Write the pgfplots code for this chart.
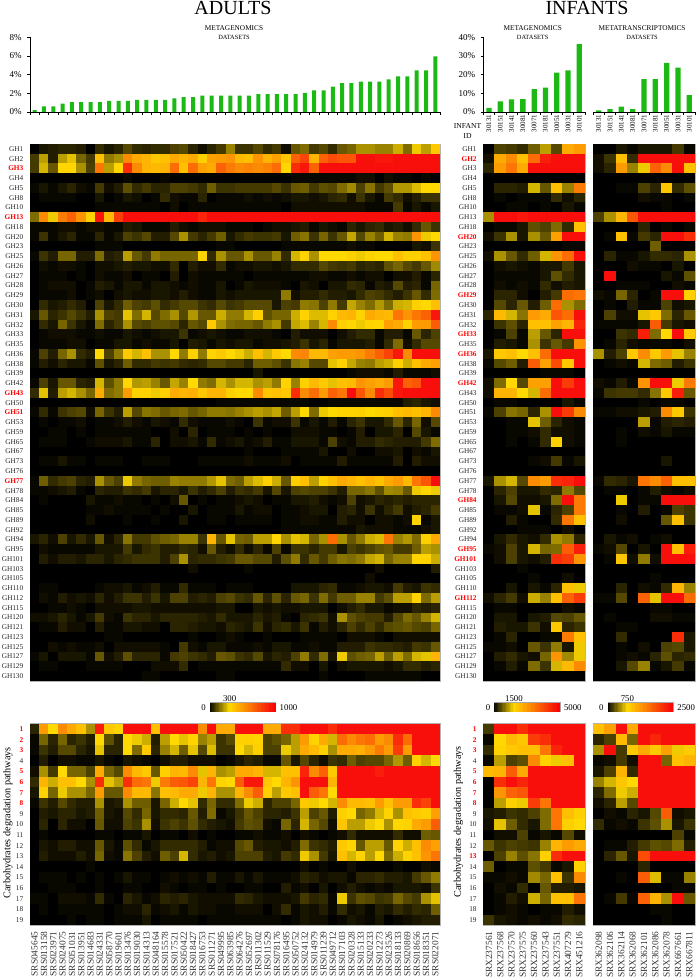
\documentclass[border=0pt]{standalone}
\usepackage{pgfplots}
\usepackage{pgfplotstable}
\usepackage{fontspec}
\setmainfont{Liberation Serif}
\pgfplotsset{compat=1.18}
\newcommand{\fs}[1]{\fontsize{#1}{#1}\selectfont}
\newcommand{\rr}[1]{{\bfseries\color{red}#1}}
\definecolor{bargreen}{RGB}{28,184,20}
\pgfdeclareplotmark{cellA}{\pgfpathrectangle{\pgfpoint{-4.82pt}{-5.03pt}}{\pgfpoint{9.64pt}{10.06pt}}\pgfusepathqfill}
\pgfdeclareplotmark{cellB}{\pgfpathrectangle{\pgfpoint{-4.82pt}{-5.45pt}}{\pgfpoint{9.64pt}{10.9pt}}\pgfusepathqfill}
\pgfdeclareplotmark{cellC}{\pgfpathrectangle{\pgfpoint{-5.8pt}{-5.03pt}}{\pgfpoint{11.6pt}{10.06pt}}\pgfusepathqfill}
\pgfdeclareplotmark{cellD}{\pgfpathrectangle{\pgfpoint{-5.8pt}{-5.45pt}}{\pgfpoint{11.6pt}{10.9pt}}\pgfusepathqfill}
\pgfdeclareplotmark{cellE}{\pgfpathrectangle{\pgfpoint{-0.8pt}{-4.5pt}}{\pgfpoint{1.6pt}{9pt}}\pgfusepathqfill}

\pgfplotstableread{
0 3 4 5 5 4 0 6 3 5  10 6 5 6 6 9 10 5 2 5  8 18 7 7 10 6 8 2 12 15  8 10 6 12 14 20 20 18 18 24  15 28 22 35
8 22 4 22 27 14 8 38 17 20  55 45 42 35 38 45 42 45 33 48  50 52 40 38 52 42 48 36 68 78  42 68 75 72 72 95 95 92 92 95  95 95 95 95
8 25 12 31 31 20 9 62 22 31  85 55 42 40 42 65 38 65 48 45  68 60 55 58 55 58 65 31 85 92  68 95 95 95 95 95 95 95 95 95  95 95 95 95
0 0 0 0 0 0 0 0 0 0  1 0 0 0 1 0 0 0 0 0  0 0 0 0 0 0 0 0 1 1  1 1 1 1 1 2 2 0 2 1  1 0 1 0
1 3 1 3 5 2 1 8 2 4  11 6 8 5 5 9 9 8 6 13  7 7 8 8 8 8 10 7 12 13  8 11 10 15 19 9 16 8 11 21  21 26 30 30
0 1 1 1 1 0 0 3 0 1  3 2 0 1 6 2 1 1 5 0  1 1 1 2 1 2 1 2 3 3  2 3 5 6 2 7 3 1 8 6  2 4 7 7
0 0 0 0 0 0 0 1 1 1  1 1 1 1 0 2 0 1 1 1  1 1 1 1 1 1 1 0 2 2  2 2 2 2 2 2 1 1 1 8  1 3 1 3
15 55 28 60 68 52 32 92 40 80  95 95 95 95 95 95 95 95 88 95  95 95 95 95 95 95 95 95 95 95  95 95 95 95 95 95 95 95 95 95  95 95 95 95
1 1 1 2 2 1 2 2 1 1  4 3 1 1 1 4 2 1 2 2  2 1 1 1 0 1 2 2 3 4  1 3 2 1 5 3 5 6 3 4  2 6 12 7
1 7 1 3 5 1 1 5 1 3  9 7 10 4 4 10 20 8 5 8  13 3 6 8 7 7 8 3 13 16  7 14 7 12 23 10 18 13 25 18  17 52 28 30
0 0 0 0 0 0 0 1 1 1  0 0 0 0 0 0 0 0 0 0  1 1 0 0 0 0 0 1 1 1  1 1 1 1 2 1 1 0 0 0  0 3 2 7
1 7 4 14 14 4 4 15 4 5  22 12 8 17 14 14 14 14 32 6  20 12 12 20 12 12 18 6 25 32  20 30 30 30 33 28 32 30 30 38  33 33 38 52
0 2 1 2 2 1 0 2 2 3  4 3 3 2 2 6 0 4 2 2  6 1 2 2 3 3 2 3 6 6  6 10 8 7 8 5 6 5 11 14  10 8 12 19
0 1 1 1 0 1 0 2 1 1  2 0 1 1 0 4 0 2 1 1  1 1 1 0 1 1 1 1 1 1  2 2 1 1 2 1 2 2 0 2  2 4 1 5
0 1 2 2 2 0 1 4 3 1  3 3 1 3 3 2 1 2 1 1  3 0 1 3 2 2 2 1 0 3  2 0 3 3 6 5 1 4 3 10  4 5 1 14
0 1 1 1 2 0 1 2 0 2  3 2 2 3 3 2 4 2 1 1  3 2 3 3 3 3 3 17 2 4  4 6 4 4 3 6 9 8 6 4  7 12 6 15
0 6 3 4 6 4 0 9 3 6  13 9 8 11 6 8 10 10 7 6  10 7 8 10 10 10 3 9 8 17  16 9 17 8 23 18 15 21 15 24  25 33 30 38
3 12 5 7 10 7 4 20 9 8  27 15 25 10 15 20 10 21 12 12  24 17 17 25 33 11 14 14 24 32  26 26 32 40 42 32 45 42 40 62  52 62 68 92
0 6 3 14 7 3 1 15 5 8  20 10 9 11 11 10 5 12 10 35  20 15 14 14 12 17 20 8 23 26  18 25 55 33 31 28 32 31 48 45  33 50 50 70
0 1 2 2 2 1 1 2 1 1  3 2 1 2 3 3 7 1 2 3  2 1 1 2 2 2 1 0 4 2  2 2 0 2 4 6 6 1 4 4  1 12 5 9
0 1 1 1 2 2 0 1 1 3  3 1 2 1 1 3 0 4 3 1  3 2 3 3 1 2 2 3 4 7  3 5 1 3 3 3 4 1 6 15  2 6 10 10
1 9 4 14 20 6 4 30 9 17  35 25 38 20 20 30 17 33 17 32  35 30 28 24 38 25 35 30 55 57  40 40 48 50 50 52 60 68 78 92  55 95 95 95
1 4 2 5 3 3 1 11 3 5  13 6 6 8 7 8 6 5 6 10  10 8 8 5 13 13 11 7 16 18  10 10 27 33 23 18 17 22 24 33  24 38 45 48
0 0 0 0 0 0 0 0 0 0  0 0 0 0 0 0 0 0 0 0  0 0 0 0 3 0 0 0 0 0  0 0 0 0 1 2 2 2 1 4  1 1 1 2
1 9 3 12 12 5 4 25 11 17  31 21 22 18 12 23 18 30 17 15  25 20 25 25 20 22 17 32 18 33  40 35 27 38 40 52 48 45 50 92  68 72 95 95
6 27 4 22 25 20 14 45 15 17  50 32 32 28 33 45 42 43 36 42  42 33 30 30 55 36 38 35 85 55  65 50 68 62 95 72 55 85 75 92  95 95 95 95
0 0 0 0 0 0 0 0 0 0  0 0 0 0 0 0 0 0 0 0  1 1 1 1 1 1 1 1 1 1  0 0 1 1 1 1 1 1 1 1  4 5 3 2
1 6 1 7 9 10 2 14 7 4  22 10 16 15 12 14 15 12 14 17  17 16 18 20 22 20 23 13 22 30  15 28 30 32 32 33 30 32 33 38  40 38 42 55
0 1 0 1 1 2 0 1 1 2  4 2 1 3 2 1 6 2 1 1  1 2 1 0 7 1 2 2 7 1  3 1 4 1 5 7 3 3 6 12  5 14 2 10
0 0 1 1 0 1 0 1 1 1  1 1 1 0 0 2 0 5 0 1  1 1 0 1 0 1 0 0 2 2  2 1 1 0 1 4 0 3 3 5  0 10 3 1
0 1 1 1 0 0 1 2 2 2  3 1 1 5 0 2 2 3 1 6  1 2 3 1 2 4 1 1 3 3  3 1 9 2 1 4 4 6 5 4  4 4 8 15
0 0 0 0 0 0 0 0 0 0  0 0 0 0 0 0 0 0 0 0  0 0 0 1 0 0 0 1 1 1  1 3 0 0 2 0 0 2 2 3  0 2 1 3
0 1 1 3 1 1 0 1 1 1  0 0 1 1 1 0 0 0 1 1  1 1 1 2 1 1 1 2 0 1  1 1 1 4 1 1 1 1 1 4  0 4 2 2
0 0 0 0 0 0 0 0 0 0  0 0 0 0 0 0 0 0 0 0  0 0 0 0 0 0 0 0 0 0  0 0 0 0 0 0 0 0 0 0  0 0 0 0
1 13 6 8 9 5 4 20 12 9  28 17 14 13 13 18 17 17 17 21  27 15 13 22 26 33 24 12 33 38  22 32 38 45 42 38 42 38 45 50  40 62 72 95
1 1 2 3 4 1 0 5 4 4  7 6 8 3 5 5 3 7 4 6  9 4 7 6 8 3 10 3 9 10  9 9 7 4 14 14 16 11 19 18  12 28 31 28
0 1 0 0 0 0 3 1 1 2  1 1 0 1 0 2 12 0 1 0  1 1 2 3 2 0 1 1 3 3  4 2 1 2 9 2 3 5 4 5  4 5 5 5
0 0 0 0 0 0 1 1 2 1  1 1 1 0 1 0 0 3 0 1  1 1 3 1 2 2 0 1 1 2  3 3 0 4 5 2 7 2 5 8  2 4 5 8
0 0 0 0 0 0 2 0 0 0  1 0 0 1 0 0 3 0 0 1  1 0 1 1 1 1 0 1 1 2  2 1 1 4 2 2 0 2 2 1  2 32 1 3
0 0 0 0 0 0 0 0 0 0  0 0 0 0 0 0 0 0 0 0  0 0 0 0 0 0 0 1 1 1  1 1 1 1 1 3 2 2 2 1  1 1 2 3
3 5 2 9 3 6 3 12 2 5  16 8 8 11 13 14 18 18 7 42  12 27 14 13 22 22 31 20 27 25  14 20 65 20 12 17 24 26 62 18  21 15 33 45
0 2 1 1 1 1 1 3 3 3  8 3 6 7 4 4 6 5 2 12  4 2 6 2 5 1 9 1 7 7  5 8 8 3 9 7 9 11 12 8  8 13 22 20
0 4 2 4 4 3 5 5 3 5  6 7 7 7 4 9 20 5 6 6  7 8 12 12 10 10 4 11 17 6  12 8 13 16 15 17 23 25 14 18  18 32 32 24
0 0 0 0 0 0 0 0 0 0  0 0 0 0 0 0 0 2 0 0  0 0 0 1 0 0 0 0 0 0  0 0 0 0 0 0 0 2 0 0  0 0 0 4
0 0 0 0 0 0 0 0 0 0  0 0 0 0 0 0 0 0 0 0  0 0 0 0 0 0 0 0 0 0  0 0 0 0 0 0 2 0 0 0  0 0 0 0
0 1 1 0 0 0 0 1 2 2  3 1 2 4 1 1 6 1 1 1  0 1 1 1 0 0 0 0 3 3  3 5 6 1 1 2 3 3 2 8  4 3 7 6
0 2 1 4 2 3 2 5 2 4  7 7 4 7 3 9 9 4 5 4  9 10 7 6 12 5 11 5 12 14  7 15 8 13 13 18 18 8 11 22  22 32 15 22
0 0 1 1 2 1 0 2 2 2  2 3 3 2 2 2 2 2 2 2  3 3 0 0 3 2 3 2 2 3  3 3 0 2 4 6 3 3 1 2  2 5 4 5
2 2 3 5 3 1 3 8 2 1  7 5 5 3 5 5 5 5 4 3  6 3 3 3 5 3 4 1 0 5  6 7 2 20 11 9 8 8 4 10  15 12 18 25
0 1 1 4 2 2 0 4 1 1  3 3 2 2 0 5 5 4 3 3  2 5 4 3 7 2 5 6 3 7  1 4 2 5 9 6 9 6 10 11  12 10 9 14
0 0 0 0 0 0 0 0 1 1  0 0 0 0 0 0 0 1 0 0  1 2 1 0 0 1 0 0 0 1  1 1 1 0 2 2 2 1 0 2  2 2 2 2
0 0 2 1 2 1 1 2 0 2  2 2 2 2 1 0 8 2 1 3  3 1 1 1 2 1 3 3 1 1  2 1 1 4 4 4 7 6 6 5  4 8 7 12
1 3 0 3 3 3 1 12 2 4  11 5 5 5 1 8 9 7 6 4  12 11 7 6 10 3 5 4 9 17  6 15 3 28 11 13 14 22 13 22  15 25 27 42
0 1 1 0 0 0 1 1 1 1  0 0 0 2 2 2 6 0 1 1  1 1 1 1 1 1 1 6 2 2  0 3 0 2 3 3 3 3 2 3  6 6 4 5
0 0 0 0 0 0 0 0 0 0  0 0 1 1 0 0 0 0 0 0  1 1 0 0 0 0 0 0 0 0  0 1 0 0 0 0 1 1 1 1  1 1 0 0
}\tblA

\pgfplotstableread{
5 50 30 55 45 38 20 90 35 32  95 95 95 38 95 95 95 95 55 95  45 45 95 95 95 45 45 85 85 95  95 95 85 95 95 95 95 95 95 95  95 95 95 95
1 14 5 14 5 7 4 30 11 5  30 28 24 4 22 30 27 32 18 22  7 10 32 33 32 9 11 14 22 50  32 45 25 65 55 62 65 50 55 85  65 95 95 95
1 7 4 10 10 5 3 27 5 5  30 15 35 5 18 25 13 27 10 26  7 7 30 25 33 9 9 28 22 45  40 33 20 45 45 43 50 60 50 80  50 95 95 95
0 4 0 2 2 1 1 3 1 0  3 2 1 0 2 4 4 2 2 2  0 1 3 5 4 1 1 12 3 10  5 2 7 6 13 9 10 10 14 21  13 33 25 30
2 20 8 30 14 14 9 45 14 10  55 40 35 12 33 42 40 55 27 42  20 22 45 45 42 25 25 38 38 88  55 68 35 95 95 95 95 90 95 95  95 95 95 95
6 42 24 38 38 30 20 85 27 22  85 65 62 28 60 70 72 78 42 62  32 30 70 92 92 35 30 42 52 95  95 95 42 95 95 95 95 95 95 95  95 95 95 95
3 32 14 28 20 20 14 50 12 12  55 40 40 16 38 40 45 45 28 42  20 20 42 55 70 33 22 35 38 95  70 62 30 95 95 95 95 95 95 95  95 95 95 95
1 7 4 10 6 4 4 20 3 4  20 13 13 3 14 24 30 27 6 14  6 6 15 28 24 5 9 9 14 35  28 30 25 55 40 40 38 50 38 50  50 85 78 95
0 4 3 5 5 3 4 13 3 2  10 6 14 3 6 6 5 12 4 15  1 3 7 12 9 5 5 4 7 22  9 12 4 33 30 14 17 25 32 20  38 35 33 48
0 5 0 5 2 2 0 12 2 2  9 7 20 2 7 9 7 11 6 4  3 2 8 11 10 2 1 14 5 25  14 10 2 36 22 22 28 30 20 31  32 45 50 70
0 1 0 0 0 0 0 1 1 0  1 1 3 0 1 1 0 2 0 1  0 0 1 1 2 1 1 2 0 2  1 0 1 2 6 2 2 2 2 6  2 2 13 12
0 3 2 4 4 2 2 12 3 1  11 6 1 3 6 6 6 6 4 1  2 2 10 12 4 3 3 2 4 15  7 6 4 35 32 12 22 22 12 32  24 38 55 48
0 4 2 2 2 4 2 14 2 1  16 9 4 2 13 9 25 6 3 4  2 3 9 9 9 4 3 8 6 28  20 8 3 38 25 32 22 30 15 24  32 38 52 62
0 0 0 0 0 0 1 0 0 0  0 0 0 0 0 0 0 0 0 0  0 0 0 0 0 0 0 0 0 2  0 1 0 0 2 0 0 0 0 1  0 0 2 1
0 1 1 1 0 1 0 1 0 1  3 1 1 0 1 2 1 2 1 4  1 1 3 1 3 1 1 1 2 5  4 2 3 3 1 5 5 6 4 4  3 8 12 17
0 0 1 1 1 0 0 1 0 0  1 1 0 0 2 1 0 1 1 0  1 0 0 1 1 0 0 4 1 2  0 3 0 2 4 2 1 2 1 3  3 3 2 7
1 1 0 2 2 2 1 6 1 0  5 3 1 2 5 4 5 3 2 2  2 2 6 5 3 2 2 2 3 8  5 6 1 28 7 11 10 7 8 14  10 8 20 27
0 1 0 1 1 1 1 1 0 1  2 2 5 1 2 3 1 3 2 2  1 1 2 2 2 0 2 6 1 3  2 4 1 6 2 3 1 4 3 6  4 6 5 13
0 0 0 0 1 0 1 1 0 1  1 1 3 0 1 1 1 1 0 1  1 1 1 1 1 1 1 0 1 3  2 2 0 1 3 2 1 3 0 1  2 3 4 4
}\tblB

\pgfplotstableread{
0 9 8 6 13 22 10 45 50
2 45 55 38 65 90 95 95 95
5 50 62 45 95 95 95 95 95
0 0 0 0 0 0 0 0 0
0 5 5 4 25 12 38 18 60
0 1 0 1 1 1 6 2 5
0 0 1 1 0 1 0 3 1
20 95 95 92 95 95 95 95 95
0 1 1 3 11 9 15 6 38
2 7 20 3 20 12 48 95 95
0 0 0 0 0 0 0 1 1
2 20 12 6 13 25 52 65 95
0 2 3 2 1 3 3 8 3
0 1 1 1 1 3 11 6 3
0 2 1 2 1 6 2 4 3
0 5 5 2 0 4 8 65 62
0 10 5 12 4 13 65 20 15
5 40 25 16 50 45 72 65 95
0 7 11 5 38 38 48 42 88
0 1 9 1 22 12 5 95 95
0 4 3 1 20 7 12 8 52
3 35 38 30 38 65 95 95 95
1 10 13 4 70 48 75 35 95
0 0 0 0 0 1 1 1 0
2 15 30 10 48 48 95 80 95
2 42 42 30 25 65 95 95 95
0 1 1 0 0 0 0 3 1
1 9 16 14 5 20 95 80 55
0 0 1 1 27 13 5 2 1
0 0 1 1 2 6 2 2 1
0 0 1 0 1 6 32 2 1
0 0 0 0 0 0 0 0 0
0 0 0 0 1 2 8 1 3
0 0 0 0 0 0 0 0 0
3 20 25 10 55 50 85 88 95
0 5 9 3 3 6 5 17 10
0 3 10 2 2 3 15 95 60
0 1 1 2 27 1 5 9 60
0 0 4 1 0 0 6 62 38
0 0 0 1 1 1 0 2 0
0 3 6 3 2 6 20 17 5
1 2 9 3 25 14 15 70 90
0 2 9 3 2 4 85 80 52
0 0 0 1 0 0 0 0 0
0 0 0 0 1 0 0 2 0
0 0 3 0 3 1 5 38 28
2 5 8 2 24 18 38 68 80
0 1 1 0 0 0 0 2 1
0 3 3 0 3 4 10 9 12
0 4 3 3 7 2 35 5 7
0 1 5 0 0 1 1 60 38
1 1 2 0 12 7 17 3 28
0 4 6 3 2 14 52 19 28
0 1 4 1 15 7 25 40 55
0 0 0 0 0 0 0 0 0
}\tblC

\pgfplotstableread{
0 0 3 1 3 3 3 8 1
2 7 38 6 95 95 95 95 95
2 5 50 18 28 68 55 95 38
0 0 0 0 0 0 0 0 0
0 0 1 1 9 5 36 6 11
0 0 0 0 2 1 1 0 1
0 0 0 0 0 0 1 0 0
9 20 42 72 95 95 95 95 95
0 0 0 0 5 0 1 0 1
0 1 38 1 8 5 95 95 85
0 0 0 0 0 13 0 0 0
0 5 1 1 3 6 6 5 20
0 0 0 2 1 1 0 3 0
0 95 0 0 0 0 3 1 11
0 0 1 1 1 0 0 2 1
2 1 14 5 0 1 95 95 33
0 1 0 4 1 1 9 2 3
0 9 2 2 27 35 15 5 12
1 1 1 1 3 70 8 3 2
0 0 7 6 90 15 30 95 35
0 1 5 2 1 1 1 0 2
20 4 9 35 55 35 50 27 18
0 1 2 1 25 15 13 4 7
0 0 0 0 0 0 0 0 0
2 1 4 1 52 95 95 28 60
1 7 8 8 6 16 35 90 12
0 0 0 0 1 0 1 1 0
1 1 2 2 3 4 55 35 7
0 0 0 0 22 1 4 5 4
0 0 1 0 2 1 3 1 1
0 0 1 0 0 0 0 0 0
0 0 0 0 0 0 0 0 0
0 0 0 0 0 0 3 0 0
0 0 0 0 0 0 0 0 0
1 6 5 3 62 55 68 38 38
0 1 1 0 1 4 2 1 2
0 0 28 0 1 1 95 95 95
0 0 1 0 4 0 1 9 7
0 0 2 0 0 0 12 38 7
0 0 0 0 0 0 0 0 0
0 3 1 2 0 1 2 0 0
1 2 10 0 3 0 95 38 90
0 1 36 2 17 2 95 95 95
0 0 0 0 0 0 0 0 0
0 0 0 0 0 1 0 0 0
0 0 5 0 2 1 6 42 18
1 1 10 0 68 27 95 95 65
0 0 0 0 0 1 1 0 0
0 1 0 0 0 2 2 1 1
0 0 1 1 0 0 0 0 0
0 0 6 0 0 0 0 85 3
0 0 1 0 2 0 9 10 3
0 0 1 2 1 5 11 5 6
0 0 3 10 18 1 3 8 1
0 0 0 0 0 0 0 0 0
}\tblD

\pgfplotstableread{
8 95 95 85 95 95 95 95 95
1 30 40 36 80 85 95 95 95
6 32 35 38 38 62 88 95 95
1 22 9 11 55 32 28 38 95
40 42 70 45 95 95 95 95 95
0 85 95 88 95 95 95 95 95
0 52 68 72 95 95 95 95 95
0 22 33 28 80 62 95 95 95
3 4 7 6 9 15 62 38 33
2 27 13 6 3 15 62 33 30
0 2 2 9 1 3 1 10 2
12 7 9 8 7 18 42 50 45
0 9 18 11 16 33 85 95 95
13 0 1 1 11 8 1 3 33
1 1 2 1 19 14 38 7 55
0 2 1 6 0 12 4 4 3
0 1 4 2 24 14 38 38 62
0 1 2 1 0 1 1 4 2
7 3 2 1 2 1 2 6 5
}\tblE

\pgfplotstableread{
38 48 95 45 95 95 95 95 95
5 9 40 14 95 88 95 95 95
20 95 8 35 45 35 48 28 34
1 2 8 2 95 95 14 38 42
3 9 42 6 95 95 95 95 95
18 25 36 30 95 95 95 95 95
5 15 28 24 95 95 95 95 95
2 5 22 10 95 95 95 95 95
0 2 1 5 3 10 70 2 3
6 1 2 1 7 11 20 3 7
0 0 0 0 0 0 0 9 1
0 1 1 4 8 11 10 15 4
0 5 12 3 75 95 95 95 95
0 0 0 0 5 0 0 0 0
0 0 1 0 70 26 1 1 18
0 0 0 0 0 0 0 1 1
0 1 8 1 68 42 20 95 12
0 0 0 0 0 1 1 0 0
0 0 0 0 0 0 1 0 0
}\tblF

\pgfplotstableread{
1 0
3 0
5 0
7 0
9 0
11 0
13 0
15 0
17 0
19 0
21 0
23 0
25 0
27 0
29 0
31 0
33 0
35 0
37 0
39 0
41 0
43 0
45 0
47 0
49 0
51 0
53 0
55 0
57 0
59 0
61 0
63 0
65 0
67 0
69 0
71 0
73 0
75 0
77 0
79 0
81 0
83 0
85 0
87 0
89 0
91 0
93 0
95 0
97 0
99 0
}\tblCB

\newcommand{\cells}[3]{%
 \pgfplotsinvokeforeach{0,...,#2}{%
  \addplot[scatter,only marks,mark=#3,forget plot,point meta=explicit,
    scatter/use mapped color={draw=mapped color,fill=mapped color}]
    table[x expr=##1,y expr=\coordindex,meta index=##1]{#1};}}

\pgfplotsset{
 colormap={hm}{rgb255(0)=(0,0,0) rgb255(30)=(255,217,0) rgb255(95)=(248,14,10) rgb255(100)=(255,0,0)},
 heat/.style={scale only axis,colormap name=hm,point meta min=0,point meta max=100,
   y dir=reverse,enlargelimits=false,axis on top,
   axis background/.style={fill=black},
   axis line style={draw=black!30,line width=0.5pt},
   major tick length=0pt,tick style={draw=none},
   tick label style={inner sep=0pt},
   yticklabel style={anchor=east,xshift=-6.5pt,font=\fs{7.3},text=black!85},
   xticklabel style={rotate=90,anchor=east,xshift=-6pt,font=\fs{9.4},text=black!80}},
 gh/.style={ymin=-0.5,ymax=54.5,height=537pt,ytick={0,...,54}},
 path/.style={ymin=-0.5,ymax=18.5,height=201.6pt,ytick={0,...,18}},
 barax/.style={scale only axis,height=74.8pt,ymin=0,axis lines*=left,
   axis line style={line width=0.7pt},
   tick label style={inner sep=0pt},
   yticklabel style={anchor=east,xshift=-5.5pt,font=\fs{9}},
   ytick align=outside,xtick align=outside,
   tick style={black,line width=0.5pt},
   major tick length=2.6pt,tickpos=left},
 infx/.style={xtick={-0.5,0.5,...,8.5},xticklabels={},
   extra x ticks={0,...,8},
   extra x tick labels={30131,30151,30141,30081,30071,30181,30051,30031,30101},
   extra x tick style={major tick length=0pt,
     xticklabel style={rotate=90,anchor=east,xshift=-2.5pt,font=\fs{7}}}},
 bars/.style={ybar,bar shift=0pt,draw=none,fill=bargreen},
 cbar/.style={scale only axis,clip=false,width=65.6pt,height=9pt,xmin=0,xmax=100,ymin=-1,ymax=1,
   colormap name=hm,point meta min=0,point meta max=100,axis on top,
   axis line style={draw=black!35,line width=0.4pt},
   ytick=\empty,xtick={30},major tick length=0pt,xticklabel pos=upper,
   xticklabel style={font=\fs{8.8},inner sep=0.5pt}},
}
\newcommand{\cbarplot}{\addplot[scatter,only marks,mark=cellE,forget plot,point meta=explicit,
    scatter/use mapped color={draw=mapped color,fill=mapped color}]
    table[x index=0,y index=1,meta index=0]{\tblCB};}

\begin{document}
\begin{tikzpicture}[x=1pt,y=1pt]
\path[use as bounding box] (0,0) rectangle (697,978);

% ---- titles
\node[font=\fs{20}] at (233,970) {ADULTS};
\node[font=\fs{20}] at (587,970) {INFANTS};
\node[font=\fs{7.3}] at (234,950) {METAGENOMICS};
\node[font=\fs{6.4}] at (234,940.5) {DATASETS};
\node[font=\fs{7.3}] at (532.7,950) {METAGENOMICS};
\node[font=\fs{6.4}] at (532.7,940.5) {DATASETS};
\node[font=\fs{7.3}] at (642,950) {METATRANSCRIPTOMICS};
\node[font=\fs{6.4}] at (642,940.5) {DATASETS};
\node[font=\fs{7.6},align=center] at (467.5,847) {INFANT\\[2.2pt]ID};

% ---- bars, adults
\begin{axis}[barax,at={(30pt,866pt)},anchor=south west,width=410pt,
  xmin=-0.5,xmax=43.5,ymax=8,ytick={0,2,4,6,8},yticklabels={0\%,2\%,4\%,6\%,8\%},
  xtick={-0.5,0.5,...,43.5},xticklabels={}]
\addplot[bars,bar width=4pt] coordinates {(0,0.2)(1,0.6)(2,0.6)(3,0.9)(4,1.05)(5,1.05)(6,1.05)(7,1.05)(8,1.2)(9,1.2)(10,1.2)(11,1.3)(12,1.3)(13,1.3)(14,1.3)(15,1.45)(16,1.6)(17,1.6)(18,1.75)(19,1.75)(20,1.75)(21,1.75)(22,1.75)(23,1.75)(24,1.9)(25,1.9)(26,1.9)(27,1.9)(28,1.9)(29,2.05)(30,2.3)(31,2.3)(32,2.7)(33,3.1)(34,3.1)(35,3.25)(36,3.25)(37,3.25)(38,3.5)(39,3.8)(40,3.8)(41,4.45)(42,4.45)(43,5.95)};
\end{axis}

% ---- bars, infants metagenomics
\begin{axis}[barax,infx,at={(483.3pt,866pt)},anchor=south west,width=101.7pt,
  xmin=-0.5,xmax=8.5,ymax=40,ytick={0,10,20,30,40},yticklabels={0\%,10\%,20\%,30\%,40\%}]
\addplot[bars,bar width=5.3pt] coordinates {(0,2.2)(1,5.7)(2,6.8)(3,6.9)(4,12.2)(5,13)(6,21)(7,22.3)(8,36.3)};
\end{axis}

% ---- bars, infants metatranscriptomics
\begin{axis}[barax,infx,at={(593pt,866pt)},anchor=south west,width=102pt,
  xmin=-0.5,xmax=8.5,ymax=40,ytick=\empty,
  axis y line=none,axis x line*=bottom]
\addplot[bars,bar width=5.3pt] coordinates {(0,0.9)(1,1.5)(2,2.9)(3,1.5)(4,17.6)(5,17.6)(6,26.2)(7,23.7)(8,9)};
\end{axis}

% ---- GH heat maps
\begin{axis}[heat,gh,at={(30pt,297pt)},anchor=south west,width=410pt,xmin=-0.5,xmax=43.5,xtick=\empty,
 yticklabels={GH1,GH2,\rr{GH3},GH4,GH5,GH8,GH10,\rr{GH13},GH18,GH20,GH23,GH25,GH26,GH27,GH28,GH29,GH30,GH31,GH32,GH33,GH35,GH36,GH38,GH39,GH42,\rr{GH43},GH50,\rr{GH51},GH53,GH59,GH65,GH67,GH73,GH76,\rr{GH77},GH78,GH84,GH85,GH89,GH92,GH94,GH95,GH101,GH103,GH105,GH110,GH112,GH115,GH120,GH121,GH123,GH125,GH127,GH129,GH130}]
\cells{\tblA}{43}{cellA}
\end{axis}
\begin{axis}[heat,gh,at={(483.3pt,297pt)},anchor=south west,width=101.7pt,xmin=-0.5,xmax=8.5,xtick=\empty,
 yticklabels={GH1,\rr{GH2},GH3,GH4,GH5,GH8,GH10,GH13,GH18,\rr{GH20},GH23,GH25,GH26,GH27,GH28,\rr{GH29},GH30,GH31,GH32,\rr{GH33},GH35,\rr{GH36},GH38,GH39,\rr{GH42},GH43,GH50,GH51,GH53,GH59,GH65,GH67,GH73,GH76,GH77,GH78,\rr{GH84},GH85,GH89,GH92,GH94,\rr{GH95},\rr{GH101},GH103,GH105,GH110,\rr{GH112},GH115,GH120,GH121,GH123,GH125,GH127,GH129,GH130}]
\cells{\tblC}{8}{cellC}
\end{axis}
\begin{axis}[heat,gh,at={(593pt,297pt)},anchor=south west,width=102pt,xmin=-0.5,xmax=8.5,xtick=\empty,ytick=\empty]
\cells{\tblD}{8}{cellC}
\end{axis}

% ---- colour bars
\begin{axis}[cbar,at={(210pt,266.3pt)},anchor=south west,xticklabels={300}]
\cbarplot
\node[anchor=east,font=\fs{8.8},inner sep=0pt] at (rel axis cs:-0.06,0.5) {0};
\node[anchor=west,font=\fs{8.8},inner sep=0pt] at (rel axis cs:1.06,0.5) {1000};
\end{axis}
\begin{axis}[cbar,at={(494.3pt,266.3pt)},anchor=south west,xticklabels={1500}]
\cbarplot
\node[anchor=east,font=\fs{8.8},inner sep=0pt] at (rel axis cs:-0.06,0.5) {0};
\node[anchor=west,font=\fs{8.8},inner sep=0pt] at (rel axis cs:1.06,0.5) {5000};
\end{axis}
\begin{axis}[cbar,at={(607.7pt,266.3pt)},anchor=south west,xticklabels={750}]
\cbarplot
\node[anchor=east,font=\fs{8.8},inner sep=0pt] at (rel axis cs:-0.06,0.5) {0};
\node[anchor=west,font=\fs{8.8},inner sep=0pt] at (rel axis cs:1.06,0.5) {2500};
\end{axis}

% ---- pathway heat maps
\begin{axis}[heat,path,at={(30pt,52.7pt)},anchor=south west,width=410pt,xmin=-0.5,xmax=43.5,
 yticklabels={\rr{1},\rr{2},\rr{3},4,\rr{5},\rr{6},\rr{7},\rr{8},9,10,11,12,13,14,15,16,17,18,19},
 xtick={0,...,43},xticklabels={SRS045645,SRS013158,SRS023971,SRS024075,SRS051031,SRS013951,SRS014683,SRS024331,SRS058770,SRS019601,SRS013476,SRS019030,SRS014313,SRS048164,SRS015578,SRS017521,SRS050422,SRS018427,SRS016753,SRS011271,SRS049995,SRS063985,SRS064276,SRS052697,SRS011302,SRS011529,SRS078176,SRS016495,SRS050752,SRS024132,SRS014979,SRS011239,SRS049712,SRS017103,SRS020328,SRS015133,SRS020233,SRS012273,SRS023526,SRS018133,SRS020869,SRS018656,SRS018351,SRS022071}]
\cells{\tblB}{43}{cellB}
\end{axis}
\begin{axis}[heat,path,at={(483.3pt,52.7pt)},anchor=south west,width=101.7pt,xmin=-0.5,xmax=8.5,
 yticklabels={\rr{1},\rr{2},\rr{3},4,\rr{5},\rr{6},\rr{7},\rr{8},9,10,11,12,\rr{13},14,15,16,17,18,19},
 xtick={0,...,8},xticklabels={SRX237561,SRX237568,SRX237570,SRX237575,SRX237560,SRX237543,SRX237551,SRX407279,SRX451216}]
\cells{\tblE}{8}{cellD}
\end{axis}
\begin{axis}[heat,path,at={(593pt,52.7pt)},anchor=south west,width=102pt,xmin=-0.5,xmax=8.5,ytick=\empty,
 xtick={0,...,8},xticklabels={SRX362098,SRX362106,SRX362114,SRX362068,SRX362101,SRX362086,SRX362078,SRX667661,SRX667811}]
\cells{\tblF}{8}{cellD}
\end{axis}

\node[rotate=90,font=\fs{10.2}] at (8,155) {Carbohydrates degradation pathways};
\node[rotate=90,font=\fs{10.2}] at (458.5,156) {Carbohydrates degradation pathways};
\end{tikzpicture}
\end{document}
